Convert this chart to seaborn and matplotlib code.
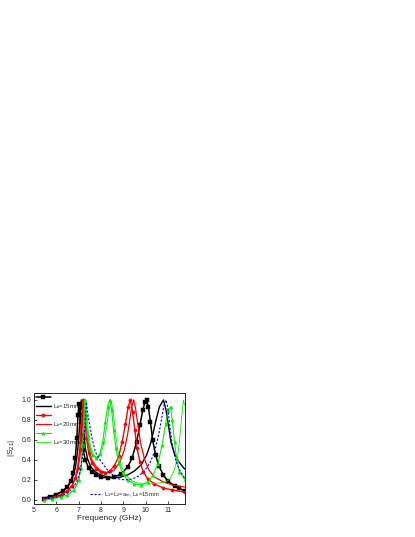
import matplotlib
matplotlib.use("Agg")
import matplotlib.pyplot as plt
import seaborn as sns

# measured, Lb = 15mm (black squares)
f_meas15 = [5.45, 5.7, 6.0, 6.3, 6.5, 6.65, 6.75, 6.85, 6.92, 6.97, 7.02, 7.07, 7.13, 7.2,
            7.3, 7.45, 7.6, 7.8, 8.0, 8.3, 8.6, 8.9, 9.2, 9.4, 9.6, 9.75, 9.88, 9.97, 10.05,
            10.13, 10.22, 10.32, 10.45, 10.6, 10.8, 11.0, 11.3, 11.5, 11.75]
s_meas15 = [0.01, 0.03, 0.05, 0.09, 0.13, 0.19, 0.27, 0.42, 0.62, 0.85, 0.96, 0.85, 0.65, 0.50,
            0.40, 0.32, 0.28, 0.25, 0.23, 0.22, 0.23, 0.26, 0.33, 0.42, 0.58, 0.75, 0.90, 0.98, 1.0,
            0.93, 0.78, 0.60, 0.45, 0.34, 0.25, 0.19, 0.14, 0.12, 0.09]

# simulated, Lb = 15mm (black line)
f_sim15 = [5.45, 5.8, 6.2, 6.5, 6.7, 6.85, 6.95, 7.03, 7.08, 7.12, 7.17, 7.23, 7.3, 7.4,
           7.55, 7.75, 8.0, 8.3, 8.6, 8.9, 9.2, 9.5, 9.8, 10.05, 10.25, 10.45, 10.62, 10.8,
           10.92, 11.03, 11.15, 11.3, 11.5, 11.75]
s_sim15 = [0.02, 0.04, 0.08, 0.13, 0.20, 0.32, 0.48, 0.70, 0.88, 1.0, 0.88, 0.68, 0.52, 0.41,
           0.33, 0.28, 0.25, 0.23, 0.22, 0.23, 0.25, 0.29, 0.35, 0.45, 0.58, 0.78, 0.93, 1.0,
           0.90, 0.74, 0.57, 0.46, 0.38, 0.31]

# measured, Lb = 20mm (red circles)
f_meas20 = [5.45, 5.8, 6.2, 6.5, 6.7, 6.85, 6.95, 7.05, 7.12, 7.2, 7.27, 7.35, 7.45, 7.6,
            7.8, 8.0, 8.2, 8.4, 8.6, 8.8, 8.95, 9.1, 9.22, 9.32, 9.42, 9.52, 9.62, 9.75, 9.9,
            10.1, 10.4, 10.8, 11.2, 11.75]
s_meas20 = [0.01, 0.02, 0.05, 0.09, 0.14, 0.22, 0.32, 0.50, 0.75, 1.0, 0.82, 0.62, 0.47, 0.37,
            0.31, 0.28, 0.27, 0.29, 0.34, 0.44, 0.58, 0.76, 0.93, 1.0, 0.88, 0.70, 0.52, 0.38, 0.28,
            0.21, 0.16, 0.12, 0.10, 0.08]

# simulated, Lb = 20mm (red line)
f_sim20 = [5.45, 5.8, 6.2, 6.5, 6.75, 6.95, 7.07, 7.15, 7.21, 7.25, 7.3, 7.37, 7.47, 7.6,
           7.8, 8.0, 8.3, 8.6, 8.85, 9.05, 9.2, 9.32, 9.4, 9.47, 9.55, 9.65, 9.78, 9.95, 10.15,
           10.4, 10.8, 11.2, 11.75]
s_sim20 = [0.01, 0.02, 0.05, 0.09, 0.16, 0.28, 0.45, 0.68, 0.88, 1.0, 0.88, 0.68, 0.51, 0.40,
           0.33, 0.29, 0.27, 0.30, 0.38, 0.50, 0.66, 0.84, 0.95, 1.0, 0.92, 0.76, 0.57, 0.41, 0.30,
           0.23, 0.18, 0.15, 0.13]

# measured, Lb = 30mm (green triangles)
f_meas30 = [5.45, 5.8, 6.2, 6.5, 6.8, 7.0, 7.1, 7.18, 7.23, 7.27, 7.32, 7.4, 7.5, 7.62, 7.8,
            7.95, 8.08, 8.2, 8.3, 8.4, 8.48, 8.57, 8.67, 8.8, 8.97, 9.2, 9.5, 9.8, 10.1, 10.35,
            10.55, 10.75, 10.9, 11.02, 11.12, 11.2, 11.3, 11.4, 11.52, 11.75]
s_meas30 = [0.0, 0.01, 0.03, 0.05, 0.10, 0.20, 0.32, 0.55, 0.80, 1.0, 0.85, 0.65, 0.52, 0.45, 0.42,
            0.46, 0.58, 0.78, 0.93, 1.0, 0.90, 0.70, 0.52, 0.37, 0.27, 0.20, 0.16, 0.15, 0.18, 0.25,
            0.36, 0.55, 0.76, 0.90, 0.93, 0.80, 0.58, 0.40, 0.28, 0.21]

# simulated, Lb = 30mm (green line)
f_sim30 = [5.45, 5.8, 6.2, 6.5, 6.8, 7.0, 7.12, 7.2, 7.27, 7.32, 7.37, 7.45, 7.55, 7.68, 7.85,
           8.0, 8.15, 8.27, 8.37, 8.47, 8.55, 8.65, 8.75, 8.9, 9.1, 9.4, 9.8, 10.2, 10.6, 10.9,
           11.1, 11.3, 11.45, 11.55, 11.63, 11.7, 11.75]
s_sim30 = [0.0, 0.01, 0.03, 0.05, 0.10, 0.19, 0.33, 0.55, 0.80, 0.99, 0.85, 0.65, 0.52, 0.45, 0.42,
           0.46, 0.58, 0.76, 0.92, 0.98, 0.88, 0.68, 0.50, 0.35, 0.25, 0.19, 0.16, 0.16, 0.17, 0.18,
           0.21, 0.30, 0.45, 0.65, 0.85, 1.0, 0.95]

# simulated, L1 = L2 = am, Lb = 15mm (blue dashed)
f_blue = [5.45, 5.8, 6.2, 6.5, 6.75, 6.95, 7.08, 7.18, 7.27, 7.35, 7.42, 7.52, 7.6, 7.75, 7.9,
          8.12, 8.4, 8.8, 9.1, 9.4, 9.7, 9.95, 10.2, 10.4, 10.6, 10.75, 10.85, 10.92, 11.0, 11.1,
          11.2, 11.35, 11.5, 11.75]
s_blue = [0.01, 0.02, 0.04, 0.07, 0.12, 0.20, 0.30, 0.45, 0.70, 0.98, 0.85, 0.72, 0.62, 0.48, 0.42,
          0.35, 0.27, 0.21, 0.20, 0.21, 0.24, 0.29, 0.37, 0.48, 0.66, 0.85, 0.97, 1.0, 0.92, 0.72,
          0.55, 0.40, 0.31, 0.22]

legend_labels = ["", "L$_b$=15mm", "", "L$_b$=20mm", "", "L$_b$=30mm"]
blue_label = "L$_1$=L$_2$=a$_m$, L$_b$=15mm"


def main():
    sns.set_style("ticks")
    plt.rcParams["font.family"] = ["Liberation Sans", "DejaVu Sans"]
    plt.rcParams["mathtext.fontset"] = "custom"
    plt.rcParams["mathtext.rm"] = "Liberation Sans"
    plt.rcParams["mathtext.it"] = "Liberation Sans"

    fig = plt.figure(figsize=(4.15, 5.37), dpi=100)
    ax = fig.add_axes([0.082, 0.0615, 0.3627, 0.2067])

    series = [
        (f_meas15, s_meas15, "black", "s", 1.1),
        (f_sim15, s_sim15, "black", None, 1.0),
        (f_meas20, s_meas20, "red", "o", 1.0),
        (f_sim20, s_sim20, "red", None, 0.9),
        (f_meas30, s_meas30, "#00ee00", "^", 0.8),
        (f_sim30, s_sim30, "#00ee00", None, 0.6),
    ]
    handles = []
    for x, y, c, m, lw in series:
        kw = dict(marker=m, markersize=2.4, markeredgecolor=c, markerfacecolor=c,
                  markeredgewidth=0.3) if m else {}
        sns.lineplot(x=x, y=y, ax=ax, color=c, linewidth=lw, sort=False, **kw)
        handles.append(ax.lines[-1])

    sns.lineplot(x=f_blue, y=s_blue, ax=ax, color="blue", linewidth=0.8, sort=False)
    blue_line = ax.lines[-1]
    blue_line.set_dashes([2, 1.5])

    ax.set_xlim(5, 11.75)
    ax.set_ylim(-0.04, 1.07)
    ax.set_xticks(range(5, 12))
    ax.set_yticks([0.0, 0.2, 0.4, 0.6, 0.8, 1.0])
    ax.set_yticklabels([f"{v:.1f}" for v in [0.0, 0.2, 0.4, 0.6, 0.8, 1.0]])
    ax.tick_params(direction="in", length=2.5, width=0.6, labelsize=5, pad=2)
    for sp in ax.spines.values():
        sp.set_linewidth(0.7)
        sp.set_visible(True)

    ax.set_xlabel("Frequency (GHz)", fontsize=6, labelpad=1)
    ax.set_ylabel("|S$_{21}$|", fontsize=6, labelpad=3)

    leg = ax.legend(handles, legend_labels, loc="upper left", bbox_to_anchor=(0.0, 1.0),
                    frameon=False, fontsize=4.3, handlelength=2.6, handletextpad=0.25,
                    labelspacing=0.35, borderaxespad=0.15, borderpad=0.1)
    ax.add_artist(leg)
    ax.legend([blue_line], [blue_label], loc="lower left", bbox_to_anchor=(0.37, 0.04),
              frameon=False, fontsize=4.2, handlelength=2.0, handletextpad=0.4,
              borderaxespad=0.0, borderpad=0.1)

    fig.savefig("out.png", dpi=100)


if __name__ == "__main__":
    main()
